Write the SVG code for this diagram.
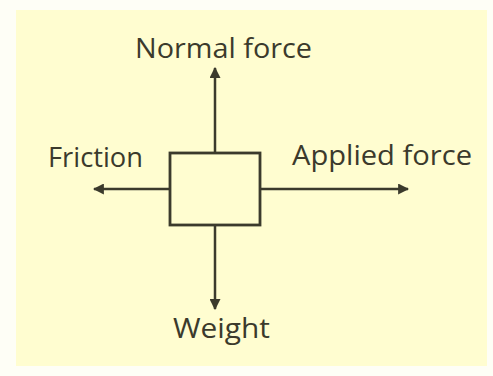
<svg xmlns="http://www.w3.org/2000/svg" width="493" height="376" viewBox="0 0 493 376">
<defs>
<style>
.lbl{font-family:"Open Sans","DejaVu Sans",sans-serif;font-size:28px;font-weight:500;fill:#3b3a2c;text-anchor:middle}
.ln{stroke:#3b3a2c;stroke-width:2.5;fill:none}
</style>
<marker id="ah" viewBox="0 0 10 10" refX="9" refY="5" markerWidth="4.4" markerHeight="4.4" orient="auto" markerUnits="strokeWidth">
<path d="M0,0 L10,5 L0,10 Z" fill="#3b3a2c"/>
</marker>
</defs>
<rect x="0" y="0" width="493" height="376" fill="#fefef6"/>
<rect x="16" y="10" width="471" height="356" fill="#fffdd0"/>
<g id="connectors">
<line class="ln" x1="215" y1="153" x2="215" y2="68" marker-end="url(#ah)"/>
<line class="ln" x1="215" y1="225" x2="215" y2="309" marker-end="url(#ah)"/>
<line class="ln" x1="170" y1="189" x2="94" y2="189" marker-end="url(#ah)"/>
<line class="ln" x1="260" y1="189" x2="408" y2="189" marker-end="url(#ah)"/>
</g>
<g id="box">
<rect x="170" y="153" width="90" height="72" fill="none" stroke="#3b3a2c" stroke-width="2.8"/>
</g>
<g id="normal"><text class="lbl" x="223.5" y="58" textLength="177" lengthAdjust="spacingAndGlyphs">Normal force</text></g>
<g id="friction"><text class="lbl" x="95.5" y="167" textLength="95" lengthAdjust="spacingAndGlyphs">Friction</text></g>
<g id="applied"><text class="lbl" x="382" y="165" textLength="180" lengthAdjust="spacingAndGlyphs">Applied force</text></g>
<g id="weight"><text class="lbl" x="221.5" y="338" textLength="97" lengthAdjust="spacingAndGlyphs">Weight</text></g>
</svg>
